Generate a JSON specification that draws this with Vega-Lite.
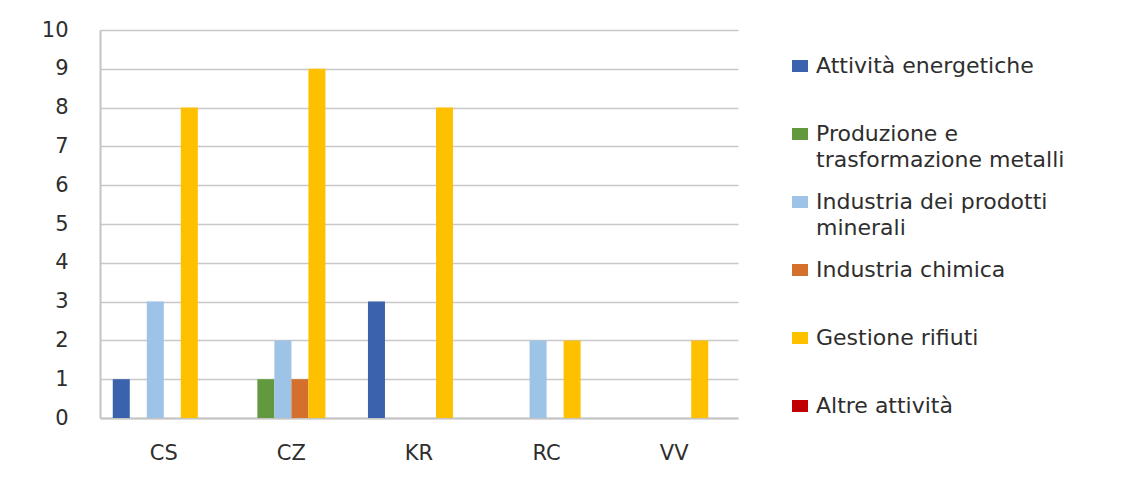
{
  "$schema": "https://vega.github.io/schema/vega-lite/v6.json",
  "width": 638,
  "height": 388,
  "autosize": {"type": "none"},
  "padding": {"left": 100, "top": 30, "right": 402, "bottom": 70},
  "background": "white",
  "config": {
    "view": {"stroke": null},
    "font": "DejaVu Sans"
  },
  "data": {
    "values": [
      {"prov": "CS", "cat": "Attività energetiche", "n": 1},
      {"prov": "CS", "cat": "Industria dei prodotti minerali", "n": 3},
      {"prov": "CS", "cat": "Gestione rifiuti", "n": 8},
      {"prov": "CZ", "cat": "Produzione e trasformazione metalli", "n": 1},
      {"prov": "CZ", "cat": "Industria dei prodotti minerali", "n": 2},
      {"prov": "CZ", "cat": "Industria chimica", "n": 1},
      {"prov": "CZ", "cat": "Gestione rifiuti", "n": 9},
      {"prov": "KR", "cat": "Attività energetiche", "n": 3},
      {"prov": "KR", "cat": "Gestione rifiuti", "n": 8},
      {"prov": "RC", "cat": "Industria dei prodotti minerali", "n": 2},
      {"prov": "RC", "cat": "Gestione rifiuti", "n": 2},
      {"prov": "VV", "cat": "Gestione rifiuti", "n": 2}
    ]
  },
  "mark": {"type": "bar"},
  "encoding": {
    "x": {
      "field": "prov",
      "type": "nominal",
      "scale": {"domain": ["CS", "CZ", "KR", "RC", "VV"], "paddingInner": 0.2, "paddingOuter": 0.1},
      "axis": {
        "title": null,
        "labelAngle": 0,
        "labelFont": "DejaVu Sans",
        "labelFontSize": 21,
        "labelColor": "#2e2e2e",
        "labelPadding": 24,
        "ticks": false,
        "domainColor": "#c4c4c4",
        "domainWidth": 2,
        "grid": false
      }
    },
    "xOffset": {
      "field": "cat",
      "type": "nominal",
      "scale": {
        "domain": ["Attività energetiche", "Produzione e trasformazione metalli", "Industria dei prodotti minerali", "Industria chimica", "Gestione rifiuti", "Altre attività"],
        "paddingInner": 0,
        "paddingOuter": 0
      }
    },
    "y": {
      "field": "n",
      "type": "quantitative",
      "scale": {"domain": [0, 10]},
      "axis": {
        "title": null,
        "values": [0, 1, 2, 3, 4, 5, 6, 7, 8, 9, 10],
        "labelFont": "DejaVu Sans",
        "labelFontSize": 21,
        "labelColor": "#2e2e2e",
        "labelPadding": 32,
        "ticks": false,
        "domainColor": "#c4c4c4",
        "domainWidth": 2,
        "grid": true,
        "gridColor": "#c8c8c8",
        "gridWidth": 1.5
      }
    },
    "color": {
      "field": "cat",
      "type": "nominal",
      "scale": {
        "domain": ["Attività energetiche", "Produzione e trasformazione metalli", "Industria dei prodotti minerali", "Industria chimica", "Gestione rifiuti", "Altre attività"],
        "range": ["#3a62ad", "#62993e", "#9dc3e6", "#d4702b", "#ffc000", "#c00000"]
      },
      "legend": {
        "title": null,
        "orient": "none",
        "legendX": 689,
        "legendY": 25,
        "padding": 0,
        "symbolType": "M-1,-0.75H1V0.75H-1Z",
        "symbolSize": 256,
        "symbolStrokeWidth": 0,
        "symbolOpacity": 1,
        "labelFont": "DejaVu Sans",
        "labelFontSize": 22,
        "labelColor": "#2e2e2e",
        "labelLimit": 400,
        "labelOffset": 5,
        "labelBaseline": "top",
        "rowPadding": 20,
        "labelExpr": "datum.label == 'Produzione e trasformazione metalli' ? ['Produzione e', 'trasformazione metalli'] : datum.label == 'Industria dei prodotti minerali' ? ['Industria dei prodotti', 'minerali'] : [datum.label, '']",
        "encode": {
          "labels": {"update": {"lineHeight": {"value": 26}, "dy": {"value": -10}}}
        }
      }
    }
  }
}
